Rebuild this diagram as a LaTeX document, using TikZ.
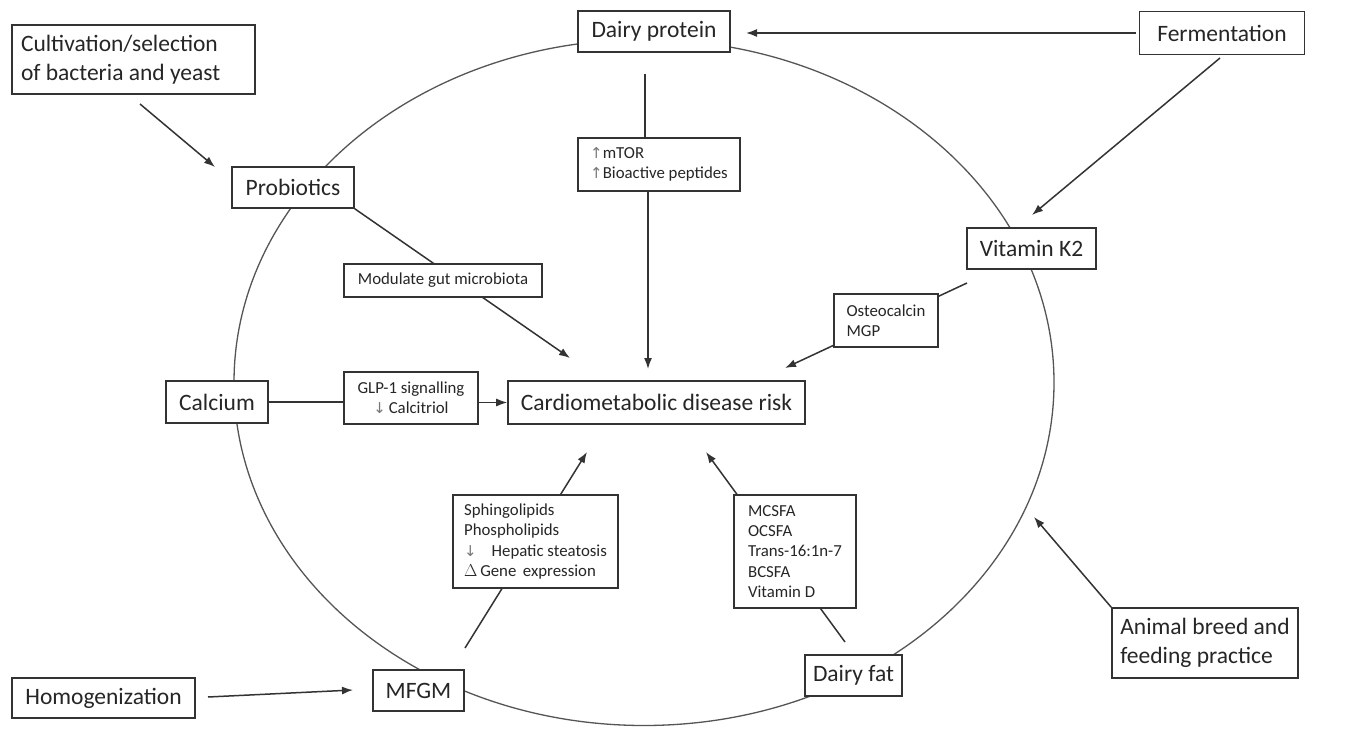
\documentclass[tikz,border=0pt]{standalone}
\usepackage{fontspec}
\setmainfont{Carlito}
\newfontfamily\symf{DejaVu Sans}
\usetikzlibrary{arrows.meta,backgrounds}
\definecolor{ink}{HTML}{262626}
\definecolor{linec}{HTML}{333333}
\definecolor{ellc}{HTML}{555555}
\definecolor{arrg}{HTML}{777777}
\newcommand{\bigtxt}{\fontsize{23.5}{28.5}\selectfont}
\newcommand{\smtxt}{\fontsize{16.8}{20.3}\selectfont}
\newcommand{\upa}{{\symf\color{arrg}\fontsize{15}{15}\selectfont ↑}}
\newcommand{\dna}{{\symf\color{arrg}\fontsize{15}{15}\selectfont ↓}}
\tikzset{
 box/.style={draw=linec, line width=1.6pt, fill=white, text=ink, inner sep=0pt, anchor=center},
 bigbox/.style={box, font=\bigtxt, align=center},
 smbox/.style={box, font=\smtxt},
 conn/.style={draw=linec, line width=1.5pt},
 arr/.style={conn, -{Latex[length=11pt,width=8pt]}},
}
\begin{document}
\begin{tikzpicture}[x=1pt,y=-1pt]
\useasboundingbox (0,0) rectangle (1360,730);
% boxes
\node[bigbox, text width=225pt, inner xsep=9pt, align=flush left, minimum height=69pt] (cult) at (133.5,59.5) {Cultivation/selection\\of bacteria and yeast};
\node[bigbox, minimum width=152pt, minimum height=41pt] (dprot) at (654,31.5) {Dairy protein};
\node[bigbox, minimum width=165pt, minimum height=43pt] (ferm) at (1222,33) {Fermentation};
\node[bigbox, minimum width=122pt, minimum height=41pt] (prob) at (293,187.5) {Probiotics};
\node[smbox, align=left, minimum width=162pt, minimum height=53pt] (mtor) at (659,164.5) {\upa mTOR\\\upa Bioactive peptides};
\node[smbox, minimum width=198pt, minimum height=33pt, align=center] (mod) at (443,280.5) {Modulate gut microbiota};
\node[bigbox, minimum width=129pt, minimum height=41pt] (vk2) at (1031.5,248.5) {Vitamin K2};
\node[smbox, align=left, minimum width=104pt, minimum height=53pt] (osteo) at (886,320.5) {Osteocalcin\\MGP};
\node[bigbox, minimum width=102pt, minimum height=42pt] (calc) at (217,402) {Calcium};
\node[smbox, minimum width=134pt, minimum height=52pt, align=center] (glp) at (411,398) {GLP-1 signalling\\\dna\,Calcitriol};
\node[bigbox, minimum width=297pt, minimum height=43pt] (cardio) at (656.5,402.5) {Cardiometabolic disease risk};
\node[smbox, align=left, minimum width=165pt, minimum height=93pt] (sph) at (535.5,541.5) {Sphingolipids\\Phospholipids\\\dna\enspace\, Hepatic steatosis\\$\Delta$\,Gene\, expression};
\node[smbox, align=left, minimum width=122pt, minimum height=113pt] (mcsfa) at (795,551.5) {MCSFA\\OCSFA\\Trans-16:1n-7\\BCSFA\\Vitamin D};
\node[bigbox, minimum width=183pt, minimum height=40pt] (homog) at (103.5,698) {Homogenization};
\node[bigbox, minimum width=91pt, minimum height=41pt] (mfgm) at (418.5,690.5) {MFGM};
\node[bigbox, minimum width=97pt, minimum height=41pt] (dfat) at (853.5,675.5) {Dairy fat};
\node[bigbox, align=left, minimum width=186pt, minimum height=70pt] (animal) at (1205,643) {Animal breed and\\feeding practice};
% free connector ends
\coordinate (c1s) at (140,104);
\coordinate (c1t) at (215,167);
\coordinate (c2s) at (1136,33);
\coordinate (c2t) at (746,33);
\coordinate (c3s) at (1220,58);
\coordinate (c3t) at (1032,215);
\coordinate (c4s) at (645,74);
\coordinate (c4t) at (648,369);
\coordinate (c5t) at (570,358);
\coordinate (c6s) at (967,283);
\coordinate (c6t) at (785,368);
\coordinate (c8s) at (465,648);
\coordinate (c8t) at (587,452);
\coordinate (c9s) at (845,642);
\coordinate (c9t) at (706,452);
\coordinate (c10s) at (208,697);
\coordinate (c10t) at (353,690);
\coordinate (c11t) at (1034,517);
\begin{scope}[on background layer]
\fill[white] (0,0) rectangle (1360,730);
\draw[ellc, line width=1.3pt] (644,382.5) ellipse [x radius=410, y radius=343];
\draw[arr] (c1s) -- (c1t);
\draw[arr] (c2s) -- (c2t);
\draw[arr] (c3s) -- (c3t);
\draw[conn] (c4s) -- (mtor.north -| c4s);
\draw[arr] (mtor.south -| c4t) -- (c4t);
\draw[arr] (prob.south east) -- (c5t);
\draw[arr] (c6s) -- (c6t);
\draw[conn] (calc.east) -- (glp.west |- calc.east);
\draw[arr] (glp.east |- cardio.west) -- (cardio.west);
\draw[arr] (c8s) -- (c8t);
\draw[arr] (c9s) -- (c9t);
\draw[arr] (c10s) -- (c10t);
\draw[arr] (animal.north west) -- (c11t);
\end{scope}
\end{tikzpicture}
\end{document}
